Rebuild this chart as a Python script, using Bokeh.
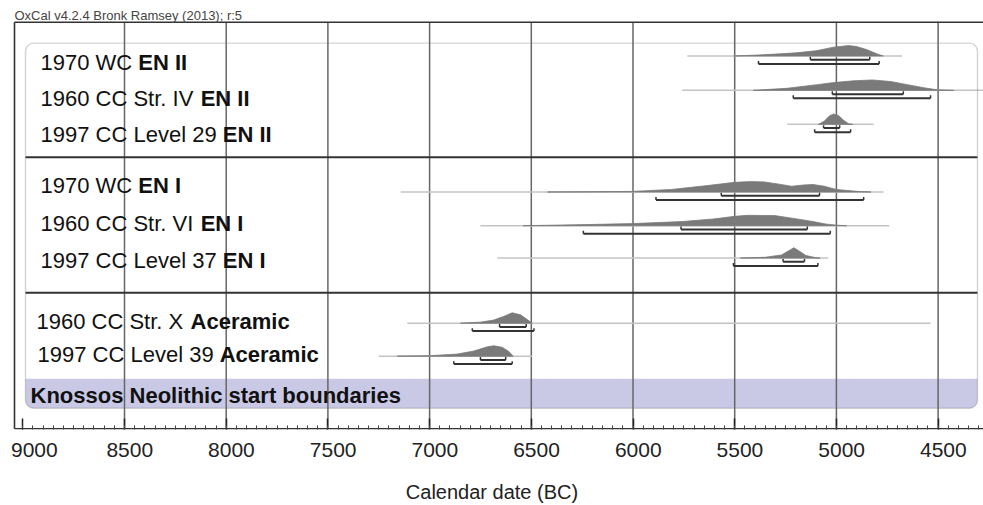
from bokeh.plotting import figure
from bokeh.models import Range1d, ColumnDataSource, FixedTicker, BoxAnnotation, CustomJSTickFormatter
from bokeh.core.properties import value
from bokeh.embed import file_html
from bokeh.resources import INLINE

# ---------------- data ----------------
HEADER = "OxCal v4.2.4 Bronk Ramsey (2013); r:5"
AXIS_TITLE = "Calendar date (BC)"
GROUP_TITLE = "Knossos Neolithic start boundaries"
TICKS = [9000, 8500, 8000, 7500, 7000, 6500, 6000, 5500, 5000, 4500]
GRID = [8500, 8000, 7500, 7000, 6500, 6000, 5500, 5000, 4500]

LABEL_PLAIN = ["1970 WC ", "1960 CC Str. IV ", "1997 CC Level 29 ",
               "1970 WC ", "1960 CC Str. VI ", "1997 CC Level 37 ",
               "1960 CC Str. X ", "1997 CC Level 39 "]
LABEL_BOLD = ["EN II", "EN II", "EN II", "EN I", "EN I", "EN I",
              "Aceramic", "Aceramic"]

# faint full extent of each distribution (years BC)
TAIL_FROM = [5733, 5758, 5241, 7142, 6750, 6667, 7110, 7250]
TAIL_TO = [4676, 4250, 4817, 4768, 4740, 5040, 4537, 6495]

# 68.2 % and 95.4 % ranges (years BC)
R68_FROM = [5128, 5020, 5063, 5566, 5764, 5262, 6656, 6750]
R68_TO = [4836, 4671, 4984, 5083, 5143, 5157, 6525, 6626]
R95_FROM = [5383, 5212, 5107, 5887, 6244, 5506, 6790, 6881]
R95_TO = [4790, 4537, 4930, 4866, 5030, 5091, 6487, 6594]

# posterior density outlines: years and relative heights
DENS_YEARS = [
    [5505, 5400, 5300, 5200, 5100, 5013, 4940, 4900, 4849, 4800, 4770],
    [5409, 5242, 5094, 5013, 4914, 4823, 4733, 4651, 4570, 4504, 4423],
    [5088, 5060, 5035, 5014, 4990, 4965, 4940, 4920],
    [6420, 6200, 6000, 5810, 5644, 5500, 5420, 5355, 5280, 5220, 5160, 5115, 5058, 5002, 4890, 4830],
    [6540, 6300, 6000, 5757, 5604, 5500, 5436, 5303, 5210, 5115, 5049, 4984, 4950],
    [5472, 5350, 5270, 5230, 5209, 5185, 5150, 5100, 5080],
    [6848, 6750, 6685, 6636, 6594, 6553, 6520, 6495],
    [7159, 6995, 6864, 6782, 6716, 6684, 6643, 6610, 6589],
]
DENS_HEIGHT = [
    [0, 0.08, 0.18, 0.30, 0.50, 0.85, 1.0, 0.9, 0.6, 0.2, 0],
    [0, 0.20, 0.55, 0.75, 0.92, 1.0, 0.85, 0.55, 0.25, 0.05, 0],
    [0, 0.30, 0.80, 1.0, 0.85, 0.40, 0.05, 0],
    [0, 0.03, 0.06, 0.25, 0.60, 0.93, 1.0, 0.97, 0.75, 0.55, 0.68, 0.72, 0.55, 0.25, 0.05, 0],
    [0, 0.08, 0.20, 0.40, 0.65, 0.90, 1.0, 0.97, 0.70, 0.40, 0.15, 0.03, 0],
    [0, 0.08, 0.30, 0.75, 1.0, 0.70, 0.25, 0.03, 0],
    [0, 0.10, 0.30, 0.65, 1.0, 0.80, 0.35, 0],
    [0, 0.05, 0.20, 0.50, 0.90, 1.0, 0.85, 0.45, 0],
]

# ---------------- layout (window pixel positions) ----------------
W, H = 983, 505
PX9000 = 22.3            # window x of the 9000 tick
YRS_PER_PX = 500 / 101.7
FRAME_BOTTOM = 433


def yr(px):
    return 9000 - (px - PX9000) * YRS_PER_PX


ROW_BASE = [56, 90.7, 125, 193.3, 227.3, 260, 325.7, 359]
LABEL_Y = [63, 99, 135, 187, 225, 262, 324, 357.5]
LABEL_X = [40, 40, 40, 40, 40, 40, 36, 37]
PEAK = 10.5
FRAME_TOP, AXIS_Y = 22, 432.3
BOX_L, BOX_R, BOX_T, BOX_B = 25, 977, 43, 411.5
SEPS = [158.3, 295]
BAND_T = 381.7

ARIAL = {' ': 278, '.': 278, 'C': 722, 'I': 278, 'L': 556, 'S': 667, 'V': 667,
         'W': 944, 'X': 667, 'e': 556, 'l': 222, 'r': 333, 't': 278, 'v': 500}
for d in "0123456789":
    ARIAL[d] = 556


def text_w(s, size):
    return sum(ARIAL.get(c, 556) for c in s) * size / 1000.0


FONT = "Liberation Sans"
LBL_SIZE = 22

p = figure(width=W, height=H, output_backend="svg", toolbar_location=None,
           x_range=Range1d(yr(0), yr(W)), y_range=Range1d(FRAME_BOTTOM, 0),
           min_border_left=0, min_border_right=0, min_border_top=0,
           min_border_bottom=H - FRAME_BOTTOM, y_axis_location=None)
p.outline_line_color = None
p.xgrid.visible = False
p.ygrid.visible = False
p.background_fill_color = "white"
p.border_fill_color = "white"

# lavender band of the group
band = BoxAnnotation(left=yr(BOX_L), right=yr(BOX_R), top=BAND_T, bottom=BOX_B,
                     fill_color="#c9c9e6", fill_alpha=1, line_color=None,
                     border_radius=(0, 0, 8, 8), level="underlay")
p.add_layout(band)

# grid lines
p.segment(x0=GRID, y0=[AXIS_Y] * len(GRID), x1=GRID, y1=[FRAME_TOP] * len(GRID),
          line_color="#666666", line_width=1.5)

# outer frame: top, left, axis line
p.segment(x0=[yr(14), yr(14), yr(14)], y0=[FRAME_TOP, FRAME_TOP, AXIS_Y],
          x1=[yr(W), yr(14), yr(W)], y1=[FRAME_TOP, AXIS_Y, AXIS_Y],
          line_color="#333333", line_width=1.6)

# separators between groups
p.segment(x0=[yr(BOX_L)] * len(SEPS), y0=SEPS, x1=[yr(BOX_R)] * len(SEPS), y1=SEPS,
          line_color="#333333", line_width=2)

# faint tails
p.segment(x0=TAIL_FROM, y0=ROW_BASE, x1=TAIL_TO, y1=ROW_BASE,
          line_color="#c4c4c4", line_width=1.5)

# densities
xs = [list(yrs) for yrs in DENS_YEARS]
ys = [[b - h * PEAK for h in hs] for b, hs in zip(ROW_BASE, DENS_HEIGHT)]
p.patches(xs=xs, ys=ys, fill_color="#7a7a7a", line_color="#7a7a7a", line_width=0.8)

# range brackets
TICK_UP = 3
for frm, to, off in ((R68_FROM, R68_TO, 3.8), (R95_FROM, R95_TO, 8.0)):
    yy = [b + off for b in ROW_BASE]
    p.segment(x0=frm, y0=yy, x1=to, y1=yy, line_color="#333333", line_width=2)
    p.segment(x0=frm + to, y0=yy + yy, x1=frm + to, y1=[v - TICK_UP for v in yy + yy],
              line_color="#333333", line_width=1.5)

# labels
src = ColumnDataSource(dict(
    x=[yr(v) for v in LABEL_X], y=LABEL_Y, plain=LABEL_PLAIN, bold=LABEL_BOLD,
    off=[text_w(s, LBL_SIZE) for s in LABEL_PLAIN]))
p.text(x="x", y="y", text="plain", source=src, text_font=value(FONT),
       text_font_size=f"{LBL_SIZE}px", text_color="#111111",
       text_baseline="middle", text_align="left")
p.text(x="x", y="y", text="bold", source=src, x_offset="off", text_font=value(FONT),
       text_font_size=f"{LBL_SIZE}px", text_font_style="bold", text_color="#111111",
       text_baseline="middle", text_align="left")

p.text(x=[yr(30)], y=[399], text=[GROUP_TITLE], text_font=value(FONT),
       text_font_size=f"{LBL_SIZE}px", text_font_style="bold", text_color="#111111",
       text_baseline="middle", text_align="left")

p.text(x=[yr(14)], y=[15], text=[HEADER], text_font=value(FONT),
       text_font_size="13px", text_color="#444444",
       text_baseline="middle", text_align="left")

# rounded outline box on top
box = BoxAnnotation(left=yr(BOX_L), right=yr(BOX_R), top=BOX_T, bottom=BOX_B,
                    fill_color=None, fill_alpha=0, line_color="#707070", line_width=1.4,
                    border_radius=8)
p.add_layout(box)

# axis
ax = p.xaxis[0]
ax.ticker = FixedTicker(ticks=TICKS, minor_ticks=list(range(4300, 9001, 50)))
ax.formatter = CustomJSTickFormatter(code="return '\\u2002' + tick.toFixed(0);")
ax.axis_line_color = None
ax.major_tick_in = 11
ax.major_tick_out = 0
ax.minor_tick_in = 4
ax.minor_tick_out = 0
ax.major_tick_line_color = "#222222"
ax.major_tick_line_width = 1.5
ax.minor_tick_line_color = "#444444"
ax.minor_tick_line_width = 1
ax.major_label_text_font = FONT
ax.major_label_text_font_size = "21px"
ax.major_label_text_color = "#222222"
ax.major_label_standoff = 8
ax.axis_label = AXIS_TITLE
ax.axis_label_text_font = FONT
ax.axis_label_text_font_size = "20px"
ax.axis_label_text_font_style = "normal"
ax.axis_label_text_color = "#222222"
ax.axis_label_standoff = 17

open("out.html", "w").write(file_html(p, INLINE))
